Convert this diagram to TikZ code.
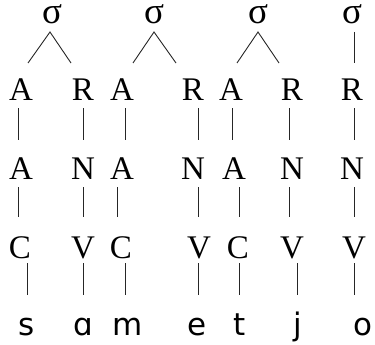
\documentclass[tikz,border=0pt]{standalone}
\usepackage{fontspec}
\setmainfont{Liberation Serif}
\newfontfamily\ipafont{DejaVu Sans}
\usetikzlibrary{calc}
\tikzset{
  lab/.style={anchor=base,inner sep=0pt,text height=22pt,text depth=0pt,font=\fontsize{33}{33}\selectfont},
  syl/.style={anchor=base,inner sep=0pt,text height=17pt,text depth=0pt,font=\fontsize{37}{37}\selectfont},
  seg/.style={anchor=base,inner sep=0pt,text height=17pt,text depth=0pt,font=\ipafont\fontsize{31}{31}\selectfont},
  ln/.style={draw=black!85,line width=0.9pt}
}
\begin{document}
\begin{tikzpicture}[x=1pt,y=-1pt]
\useasboundingbox (0,0) rectangle (375,345);
% syllables
\node[syl] (s1) at (52,24) {σ};
\node[syl] (s2) at (154,24) {σ};
\node[syl] (s3) at (258,24) {σ};
\node[syl] (s4) at (352,24) {σ};
% row 2
\node[lab] (a1) at (21,100) {A};
\node[lab] (r1) at (83,100) {R};
\node[lab] (a2) at (122,100) {A};
\node[lab] (r2) at (193,100) {R};
\node[lab] (a3) at (231,100) {A};
\node[lab] (r3) at (292,100) {R};
\node[lab] (r4) at (352,100) {R};
% row 3
\node[lab] (b1) at (21,179) {A};
\node[lab] (n1) at (83,179) {N};
\node[lab] (b2) at (122,179) {A};
\node[lab] (n2) at (193,179) {N};
\node[lab] (b3) at (234,179) {A};
\node[lab] (n3) at (292,179) {N};
\node[lab] (n4) at (352,179) {N};
% row 4
\node[lab] (c1) at (20,258) {C};
\node[lab] (v1) at (83,258) {V};
\node[lab] (c2) at (121,258) {C};
\node[lab] (v2) at (199,258) {V};
\node[lab] (c3) at (238,258) {C};
\node[lab] (v3) at (292,258) {V};
\node[lab] (v4) at (354,258) {V};
% row 5
\node[seg] (p1) at (27,335) {s};
\node[seg] (p2) at (83,335) {ɑ};
\node[seg] (p3) at (128,335) {m};
\node[seg] (p4) at (197,335) {e};
\node[seg] (p5) at (240,335) {t};
\node[seg] (p6) at (298,335) {j};
\node[seg] (p7) at (363,335) {o};
% sigma branches
\draw[ln] ($(a1.base)+(7,-37)$) -- ($(s1.base)+(-2,8)$) -- ($(r1.base)+(-12,-37)$);
\draw[ln] ($(a2.base)+(11,-37)$) -- ($(s2.base)+(0,8)$) -- ($(r2.base)+(-17,-37)$);
\draw[ln] ($(a3.base)+(6,-37)$) -- ($(s3.base)+(0,8)$) -- ($(r3.base)+(-13,-37)$);
\draw[ln] ($(s4.base)+(2,8)$) -- ($(r4.base)+(2,-37)$);
% row 2 to row 3
\draw[ln] ($(a1.base)+(-3,8)$) -- ($(b1.base)+(-3,-39)$);
\draw[ln] ($(r1.base)+(0,8)$) -- ($(n1.base)+(0,-39)$);
\draw[ln] ($(a2.base)+(3,8)$) -- ($(b2.base)+(3,-39)$);
\draw[ln] ($(r2.base)+(5,8)$) -- ($(n2.base)+(5,-39)$);
\draw[ln] ($(a3.base)+(1,8)$) -- ($(b3.base)+(-2,-39)$);
\draw[ln] ($(r3.base)+(-3,8)$) -- ($(n3.base)+(-3,-39)$);
\draw[ln] ($(r4.base)+(2,8)$) -- ($(n4.base)+(2,-39)$);
% row 3 to row 4
\draw[ln] ($(b1.base)+(-3,8)$) -- ($(c1.base)+(-2,-41)$);
\draw[ln] ($(n1.base)+(0,8)$) -- ($(v1.base)+(0,-41)$);
\draw[ln] ($(b2.base)+(-5,8)$) -- ($(c2.base)+(-4,-41)$);
\draw[ln] ($(n2.base)+(5,8)$) -- ($(v2.base)+(-1,-41)$);
\draw[ln] ($(b3.base)+(5,8)$) -- ($(c3.base)+(1,-41)$);
\draw[ln] ($(n3.base)+(-3,8)$) -- ($(v3.base)+(-3,-41)$);
\draw[ln] ($(n4.base)+(2,8)$) -- ($(v4.base)+(0,-41)$);
% row 4 to row 5
\draw[ln] ($(c1.base)+(7,5)$) -- ($(p1.base)+(0,-40)$);
\draw[ln] ($(v1.base)+(0,5)$) -- ($(p2.base)+(0,-40)$);
\draw[ln] ($(c2.base)+(4,5)$) -- ($(p3.base)+(-3,-40)$);
\draw[ln] ($(v2.base)+(-1,5)$) -- ($(p4.base)+(1,-40)$);
\draw[ln] ($(c3.base)+(1,5)$) -- ($(p5.base)+(-1,-40)$);
\draw[ln] ($(v3.base)+(5,5)$) -- ($(p6.base)+(-1,-40)$);
\draw[ln] ($(v4.base)+(0,5)$) -- ($(p7.base)+(-9,-40)$);
\end{tikzpicture}
\end{document}
